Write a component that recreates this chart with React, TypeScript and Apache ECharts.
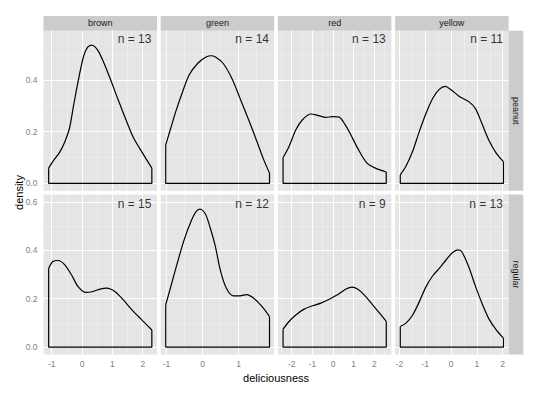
import React, { useEffect, useRef } from "react";
import * as echarts from "echarts";

// ---- data ----
const colorNames = ["brown", "green", "red", "yellow"];
const typeNames = ["peanut", "regular"];
const nCounts = [
  [13, 14, 13, 11],
  [15, 12, 9, 13],
];

const peanutBrown = [[-1.10,0.059],[-0.96,0.085],[-0.74,0.120],[-0.57,0.160],[-0.41,0.215],[-0.28,0.300],[-0.12,0.400],[0.05,0.490],[0.18,0.525],[0.31,0.534],[0.42,0.528],[0.55,0.508],[0.70,0.471],[0.92,0.407],[1.19,0.323],[1.47,0.239],[1.70,0.175],[2.02,0.112],[2.30,0.059]];
const peanutGreen = [[-1.02,0.149],[-0.88,0.214],[-0.74,0.278],[-0.55,0.355],[-0.37,0.419],[-0.13,0.464],[0.10,0.488],[0.24,0.493],[0.36,0.488],[0.57,0.464],[0.81,0.407],[1.04,0.329],[1.28,0.246],[1.51,0.162],[1.70,0.091],[1.86,0.040]];
const peanutRed = [[-2.42,0.100],[-2.13,0.143],[-1.80,0.207],[-1.48,0.246],[-1.07,0.268],[-0.75,0.263],[-0.34,0.255],[-0.02,0.258],[0.30,0.256],[0.60,0.225],[0.85,0.190],[1.16,0.141],[1.65,0.078],[2.08,0.058],[2.58,0.044]];
const peanutYellow = [[-1.97,0.033],[-1.75,0.066],[-1.49,0.124],[-1.23,0.201],[-0.97,0.271],[-0.71,0.329],[-0.45,0.364],[-0.23,0.375],[0.0,0.362],[0.32,0.336],[0.71,0.314],[0.95,0.288],[1.20,0.230],[1.45,0.170],[1.75,0.117],[2.03,0.084]];
const regularBrown = [[-1.10,0.326],[-0.96,0.354],[-0.78,0.358],[-0.57,0.340],[-0.35,0.299],[-0.13,0.250],[0.13,0.226],[0.36,0.230],[0.59,0.240],[0.81,0.244],[1.08,0.230],[1.36,0.195],[1.66,0.152],[1.95,0.115],[2.30,0.071]];
const regularGreen = [[-1.02,0.175],[-0.88,0.250],[-0.70,0.347],[-0.51,0.443],[-0.32,0.519],[-0.18,0.560],[-0.07,0.570],[0.08,0.550],[0.22,0.490],[0.35,0.420],[0.50,0.315],[0.66,0.244],[0.85,0.212],[1.04,0.212],[1.23,0.217],[1.42,0.202],[1.65,0.168],[1.86,0.126]];
const regularRed = [[-2.42,0.074],[-2.13,0.106],[-1.80,0.133],[-1.40,0.157],[-0.99,0.171],[-0.59,0.182],[-0.18,0.198],[0.22,0.216],[0.63,0.240],[0.93,0.248],[1.19,0.240],[1.51,0.216],[1.92,0.175],[2.33,0.133],[2.58,0.106]];
const regularYellow = [[-1.97,0.085],[-1.75,0.099],[-1.49,0.133],[-1.23,0.188],[-0.97,0.250],[-0.71,0.295],[-0.45,0.326],[-0.19,0.361],[0.06,0.391],[0.26,0.402],[0.41,0.395],[0.68,0.333],[0.95,0.250],[1.21,0.178],[1.45,0.120],[1.75,0.071],[2.03,0.037]];

const curves = [
  [peanutBrown, peanutGreen, peanutRed, peanutYellow],
  [regularBrown, regularGreen, regularRed, regularYellow],
];

const xMajorTicks = [[-1, 0, 1, 2], [-1, 0, 1], [-2, -1, 0, 1, 2], [-2, -1, 0, 1, 2]];
const xMinorTicks = [[-0.5, 0.5, 1.5], [-0.5, 0.5, 1.5], [-2.5, -1.5, -0.5, 0.5, 1.5, 2.5], [-1.5, -0.5, 0.5, 1.5]];
const xRanges = [[-1.27, 2.47], [-1.16, 1.99], [-2.67, 2.83], [-2.17, 2.23]];
const yMajorTicks = [[0, 0.2, 0.4], [0, 0.2, 0.4, 0.6]];
const yMinorTicks = [[0.1, 0.3, 0.5], [0.1, 0.3, 0.5]];
const yRanges = [[-0.0281, 0.5897], [-0.030, 0.631]];
const nLabelY = [0.556, 0.591];

// ---- layout ----
const PANEL_LEFT = [43.5, 160.7, 277.9, 395.1];
const PANEL_W = 113.5;
const PANEL_TOP = [30.7, 194.4];
const PANEL_H = 160;
const STRIP = 14.7;
const FONT = "'Liberation Sans', Arial, sans-serif";

function buildOption() {
  const grid: any[] = [];
  const xAxis: any[] = [];
  const yAxis: any[] = [];
  const series: any[] = [];
  const graphic: any[] = [];

  for (let r = 0; r < 2; r++) {
    for (let c = 0; c < 4; c++) {
      const idx = r * 4 + c;
      grid.push({
        left: PANEL_LEFT[c],
        top: PANEL_TOP[r],
        width: PANEL_W,
        height: PANEL_H,
        show: true,
        backgroundColor: "#E5E5E5",
        borderWidth: 0,
      });
      xAxis.push({
        type: "value",
        gridIndex: idx,
        min: xRanges[c][0],
        max: xRanges[c][1],
        splitLine: { show: false },
        axisLine: { show: false },
        axisTick: {
          show: r === 1,
          length: 4,
          lineStyle: { color: "#7F7F7F", width: 1 },
          customValues: xMajorTicks[c],
        },
        axisLabel: {
          show: r === 1,
          customValues: xMajorTicks[c],
          color: "#7F7F7F",
          fontSize: 8.5,
          margin: 5,
          fontFamily: FONT,
          formatter: (v: number) => String(v),
        },
      });
      yAxis.push({
        type: "value",
        gridIndex: idx,
        min: yRanges[r][0],
        max: yRanges[r][1],
        splitLine: { show: false },
        axisLine: { show: false },
        axisTick: {
          show: c === 0,
          length: 4,
          lineStyle: { color: "#7F7F7F", width: 1 },
          customValues: yMajorTicks[r],
        },
        axisLabel: {
          show: c === 0,
          customValues: yMajorTicks[r],
          color: "#7F7F7F",
          fontSize: 8.5,
          margin: 6,
          fontFamily: FONT,
          formatter: (v: number) => v.toFixed(1),
        },
      });

      const pts = curves[r][c];
      const first = pts[0];
      const last = pts[pts.length - 1];

      const gridLines: any[] = [];
      xMinorTicks[c].forEach((v) => gridLines.push({ xAxis: v, lineStyle: { color: "#F2F2F2", width: 0.6, type: "solid" } }));
      yMinorTicks[r].forEach((v) => gridLines.push({ yAxis: v, lineStyle: { color: "#F2F2F2", width: 0.6, type: "solid" } }));
      xMajorTicks[c].forEach((v) => gridLines.push({ xAxis: v, lineStyle: { color: "#FFFFFF", width: 1, type: "solid" } }));
      yMajorTicks[r].forEach((v) => gridLines.push({ yAxis: v, lineStyle: { color: "#FFFFFF", width: 1, type: "solid" } }));

      // frame (vertical sides + baseline)
      series.push({
        type: "line",
        xAxisIndex: idx,
        yAxisIndex: idx,
        data: [[first[0], first[1]], [first[0], 0], [last[0], 0], [last[0], last[1]]],
        symbol: "none",
        lineStyle: { color: "#000", width: 1.2 },
        silent: true,
        z: 3,
        markLine: {
          silent: true,
          z: 1,
          symbol: ["none", "none"],
          label: { show: false },
          emphasis: { disabled: true },
          data: gridLines,
        },
      });
      // density curve
      series.push({
        type: "line",
        xAxisIndex: idx,
        yAxisIndex: idx,
        data: pts,
        smooth: 0.3,
        symbol: "none",
        lineStyle: { color: "#000", width: 1.2 },
        silent: true,
        z: 3,
      });
      // n label
      series.push({
        type: "scatter",
        xAxisIndex: idx,
        yAxisIndex: idx,
        data: [[last[0], nLabelY[r]]],
        symbolSize: 1,
        itemStyle: { color: "rgba(0,0,0,0)" },
        silent: true,
        z: 4,
        label: {
          show: true,
          position: "left",
          distance: 0,
          formatter: "n = " + nCounts[r][c],
          color: "#000",
          fontSize: 12,
          fontFamily: FONT,
        },
      });
    }
  }

  // top strips
  for (let c = 0; c < 4; c++) {
    graphic.push({
      type: "rect",
      shape: { x: PANEL_LEFT[c], y: PANEL_TOP[0] - STRIP, width: PANEL_W, height: STRIP },
      style: { fill: "#CCCCCC" },
      silent: true,
    });
    graphic.push({
      type: "text",
      x: PANEL_LEFT[c] + PANEL_W / 2,
      y: PANEL_TOP[0] - STRIP / 2,
      style: {
        text: colorNames[c],
        fill: "#1A1A1A",
        fontSize: 9,
        fontFamily: FONT,
        align: "center",
        verticalAlign: "middle",
      },
      silent: true,
    });
  }
  // right strips
  const rightX = PANEL_LEFT[3] + PANEL_W;
  for (let r = 0; r < 2; r++) {
    graphic.push({
      type: "rect",
      shape: { x: rightX, y: PANEL_TOP[r], width: STRIP, height: PANEL_H },
      style: { fill: "#CCCCCC" },
      silent: true,
    });
    graphic.push({
      type: "text",
      x: rightX + STRIP / 2,
      y: PANEL_TOP[r] + PANEL_H / 2,
      rotation: -Math.PI / 2,
      style: {
        text: typeNames[r],
        fill: "#1A1A1A",
        fontSize: 9,
        fontFamily: FONT,
        align: "center",
        verticalAlign: "middle",
      },
      silent: true,
    });
  }
  // axis titles
  graphic.push({
    type: "text",
    x: (PANEL_LEFT[0] + rightX) / 2,
    y: 377.5,
    style: {
      text: "deliciousness",
      fill: "#000",
      fontSize: 11,
      fontFamily: FONT,
      align: "center",
      verticalAlign: "middle",
    },
    silent: true,
  });
  graphic.push({
    type: "text",
    x: 19,
    y: (PANEL_TOP[0] + PANEL_TOP[1] + PANEL_H) / 2,
    rotation: Math.PI / 2,
    style: {
      text: "density",
      fill: "#000",
      fontSize: 11,
      fontFamily: FONT,
      align: "center",
      verticalAlign: "middle",
    },
    silent: true,
  });

  return {
    animation: false,
    backgroundColor: "#FFFFFF",
    grid,
    xAxis,
    yAxis,
    series,
    graphic,
  };
}

export default function App() {
  const ref = useRef<HTMLDivElement>(null);
  useEffect(() => {
    if (!ref.current) return;
    const chart = echarts.init(ref.current, undefined, { renderer: "svg" });
    chart.setOption(buildOption() as any);
    return () => chart.dispose();
  }, []);
  return (
    <div
      ref={ref}
      style={{ position: "absolute", left: 0, top: 0, width: 540, height: 393 }}
    />
  );
}
